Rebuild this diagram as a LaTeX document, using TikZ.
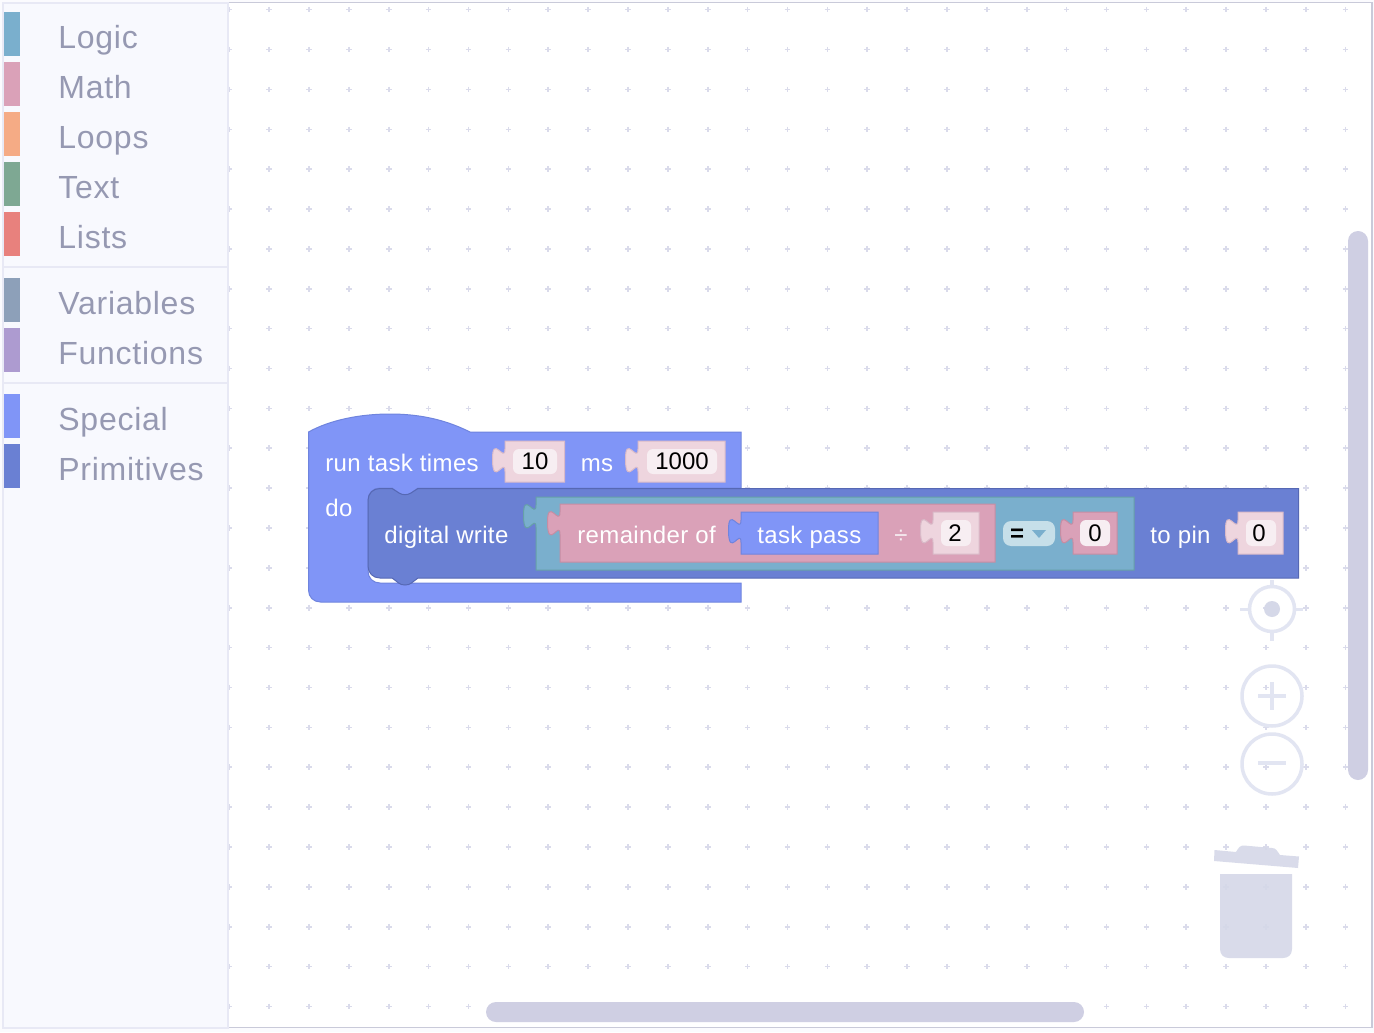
\documentclass[tikz,border=0pt]{standalone}
\usepackage{fontspec}
\setmainfont{Liberation Sans}
\newfontfamily\uifont[LetterSpace=2.3]{Liberation Sans}
\newfontfamily\blockfont[LetterSpace=1.5]{Liberation Sans}
\definecolor{pageBg}{HTML}{FBFBFE}
\definecolor{frameC}{HTML}{C9CAD9}
\definecolor{sideBg}{HTML}{F8F9FE}
\definecolor{sideLine}{HTML}{E8E9F5}
\definecolor{sideText}{HTML}{9699B2}
\definecolor{dotC}{HTML}{DADBEB}
\definecolor{cLogic}{HTML}{7AAFCD}
\definecolor{cMath}{HTML}{DAA1B8}
\definecolor{cLoops}{HTML}{F5AB85}
\definecolor{cText}{HTML}{7EA893}
\definecolor{cLists}{HTML}{E8817D}
\definecolor{cVars}{HTML}{8DA0B9}
\definecolor{cFuncs}{HTML}{AD9BD0}
\definecolor{cSpecial}{HTML}{8095F7}
\definecolor{cPrim}{HTML}{6A80D3}
\definecolor{oSpecial}{HTML}{6F84DE}
\definecolor{oPrim}{HTML}{5668B4}
\definecolor{oLogic}{HTML}{66A0A8}
\definecolor{oMath}{HTML}{C58DA3}
\definecolor{fieldBg}{HTML}{EED5DE}
\definecolor{fieldLine}{HTML}{D9BAC8}
\definecolor{fieldIn}{HTML}{F7EEF2}
\definecolor{dropBg}{HTML}{C6DFE9}
\definecolor{ctlRing}{HTML}{E2E5F2}
\definecolor{ctlFill}{HTML}{D5D8E8}
\definecolor{barC}{HTML}{CFCFE3}
\tikzset{
  x=0.5pt,y=-0.5pt,
  px/.style={line width=#1*0.5pt},
  sidelabel/.style={anchor=base west,inner sep=0pt,text=sideText,font=\uifont\fontsize{16}{19}\selectfont},
  blocklabel/.style={anchor=base west,inner sep=0pt,text=white,font=\blockfont\fontsize{12}{14}\selectfont},
  fieldlabel/.style={anchor=base,inner sep=0pt,text=black,font=\fontsize{12}{14}\selectfont},
  swatch/.style={fill=#1,draw=none},
  specialBlock/.style={fill=cSpecial,draw=oSpecial,px=1},
  primBlock/.style={fill=cPrim,draw=oPrim,px=1},
  logicBlock/.style={fill=cLogic,draw=oLogic,px=1},
  mathBlock/.style={fill=cMath,draw=oMath,px=1},
  lightField/.style={fill=fieldBg,draw=fieldLine,px=1},
  innerField/.style={fill=fieldIn,draw=none,rounded corners=3pt},
  ctlline/.style={draw=ctlRing,px=3.5},
}
% style, x left, y top, x right, y bottom
\newcommand{\tabbox}[5]{%
  \path[#1] (#2,#3) -- (#2,{#3+8})
    .. controls (#2,{#3+23}) and ({#2-13},{#3-8}) .. ({#2-12.5},{#3+19.25})
    .. controls ({#2-12},{#3+46.5}) and (#2,{#3+15.5}) .. (#2,{#3+30.5})
    -- (#2,#5) -- (#4,#5) -- (#4,#3) -- cycle;}
\begin{document}
\begin{tikzpicture}
\useasboundingbox (0,0) rectangle (1374,1032);
\fill[pageBg] (0,0) rectangle (1374,1032);
\path[fill=white,draw=frameC,px=1.2] (100,2.5) rectangle (1372,1027.5);
% grid
\foreach \i in {0,...,28}{
  \foreach \j in {0,...,25}{
    \draw[dotC,px=1.6] ({229.3+39.87*\i-2.8},{9.7+39.87*\j}) -- ++(5.6,0);
    \draw[dotC,px=1.6] ({229.3+39.87*\i},{9.7+39.87*\j-2.8}) -- ++(0,5.6);
  }
}
% sidebar
\path[fill=sideBg,draw=sideLine,px=2] (3,3) rectangle (228,1028);
\draw[sideLine,px=2] (3,267) -- (228,267);
\draw[sideLine,px=2] (3,383) -- (228,383);
\fill[swatch=cLogic] (4,12) rectangle (20,56);
\fill[swatch=cMath] (4,62) rectangle (20,106);
\fill[swatch=cLoops] (4,112) rectangle (20,156);
\fill[swatch=cText] (4,162) rectangle (20,206);
\fill[swatch=cLists] (4,212) rectangle (20,256);
\fill[swatch=cVars] (4,278) rectangle (20,322);
\fill[swatch=cFuncs] (4,328) rectangle (20,372);
\fill[swatch=cSpecial] (4,394) rectangle (20,438);
\fill[swatch=cPrim] (4,444) rectangle (20,488);
\node[sidelabel] (sLogic) at (58,49) {Logic};
\node[sidelabel] (sMath) at (58,99) {Math};
\node[sidelabel] (sLoops) at (58,149) {Loops};
\node[sidelabel] (sText) at (58,198.4) {Text};
\node[sidelabel] (sLists) at (58,249) {Lists};
\node[sidelabel] (sVars) at (58,314) {Variables};
\node[sidelabel] (sFuncs) at (58,364) {Functions};
\node[sidelabel] (sSpecial) at (58,430) {Special};
\node[sidelabel] (sPrim) at (58,480) {Primitives};
% controls
\draw[ctlline] (1272,609) circle (22.5);
\fill[ctlFill] (1272,609) circle (8);
\draw[ctlline] (1272,580) -- (1272,587) (1272,631) -- (1272,641)
  (1240,609.5) -- (1250,609.5) (1294,609.5) -- (1303,609.5);
\draw[ctlline] (1272,696) circle (30);
\draw[ctlline] (1258,696) -- (1286,696) (1272,682) -- (1272,710);
\draw[ctlline] (1272,764) circle (30);
\draw[ctlline] (1258,763) -- (1286,763);
% trash
\path[fill=ctlFill,opacity=.9] (1214.5,850) -- (1236,852) .. controls (1239,847) and (1240,845.5) .. (1244,845.5)
  -- (1272,848) .. controls (1276,848) and (1277,851) .. (1280,855) -- (1299,856.5) -- (1298,868) -- (1214,861) -- cycle;
\path[fill=ctlFill,opacity=.9] (1220,874) -- (1292,874) -- (1292,949)
  .. controls (1292,955) and (1288,958) .. (1283,958) -- (1229,958)
  .. controls (1224,958) and (1220,955) .. (1220,949) -- cycle;
% scrollbars
\fill[barC,rounded corners=5pt] (1348,231) rectangle (1368,780);
\fill[barC,rounded corners=5pt] (486,1002) rectangle (1084,1022);
% run task block
\path[specialBlock] (308.5,432) .. controls (330,420) and (360,414) .. (390,414)
  .. controls (425,414) and (450,422) .. (470,432) -- (741,432) -- (741,488) -- (418,488)
  .. controls (412,492) and (410,495) .. (405,495) .. controls (400,495) and (398,492) .. (392,488)
  -- (380,488)
  .. controls (373,488) and (368,493) .. (368,500) -- (368,571)
  .. controls (368,578) and (373,583) .. (380,583) -- (741,583) -- (741,602) -- (320.5,602)
  .. controls (313.5,602) and (308.5,597) .. (308.5,590) -- cycle;
\node[blocklabel] (tRun) at (325,471) {run task times};
\tabbox{lightField}{505}{441}{564.5}{482}
\path[innerField] (513,449) rectangle (557,474);
\node[fieldlabel] (v10) at (535,469) {10};
\node[blocklabel] (tMs) at (580.5,471) {ms};
\tabbox{lightField}{638}{441}{725}{482}
\path[innerField] (647,449) rectangle (717,474);
\node[fieldlabel] (v1000) at (682,469) {1000};
\node[blocklabel] (tDo) at (325,516) {do};
% digital write block
\path[primBlock] (368,500.5) .. controls (368,493.5) and (373,488.5) .. (380,488.5) -- (392,488.5)
  .. controls (398,492) and (400,494.7) .. (405,494.7) .. controls (410,494.7) and (412,492) .. (418,488.5)
  -- (1298.5,488.5) -- (1298.5,578) -- (418,578)
  .. controls (412,582) and (411,585) .. (405,585) .. controls (399,585) and (398,582) .. (392,578)
  -- (380,578) .. controls (373,578) and (368,573) .. (368,566) -- cycle;
\node[blocklabel] (tDigital) at (384,543) {digital write};
% logic
\tabbox{logicBlock}{536}{497}{1134}{570}
% math
\tabbox{mathBlock}{560}{504}{995}{562}
\node[blocklabel] (tRem) at (577,543) {remainder of};
\tabbox{specialBlock}{741}{512}{878}{554}
\node[blocklabel] (tPass) at (757,543) {task pass};
\node[blocklabel,text=fieldIn] (tDiv) at (894,543) {÷};
\tabbox{lightField}{933}{512}{979}{554}
\path[innerField] (941,520) rectangle (971,546);
\node[fieldlabel] (v2) at (955,541) {2};
% dropdown
\path[fill=dropBg,rounded corners=4pt] (1003,521) rectangle (1055,546);
\node[fieldlabel,font=\bfseries\fontsize{12}{14}\selectfont] (vEq) at (1017,541) {=};
\path[fill=cLogic] (1032,530) -- (1046,530) -- (1039,538) -- cycle;
\tabbox{mathBlock}{1073}{512}{1117}{554}
\path[innerField] (1080,520) rectangle (1110,546);
\node[fieldlabel] (v0a) at (1095,541) {0};
\node[blocklabel] (tPin) at (1150,543) {to pin};
\tabbox{lightField}{1238}{512}{1283}{554}
\path[innerField] (1246,520) rectangle (1276,546);
\node[fieldlabel] (v0b) at (1259,541) {0};
\end{tikzpicture}
\end{document}
